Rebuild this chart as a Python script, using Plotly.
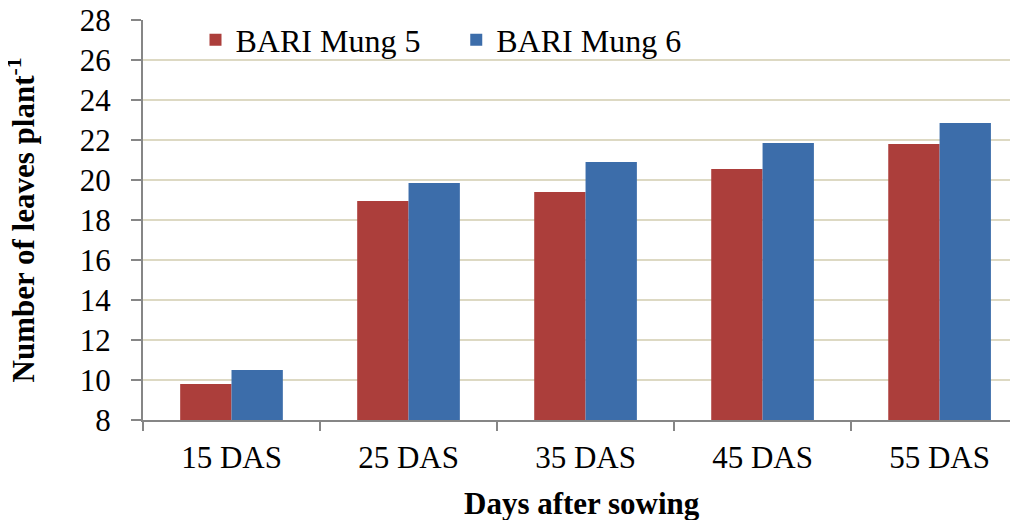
import plotly.graph_objects as go

categories = ["15 DAS", "25 DAS", "35 DAS", "45 DAS", "55 DAS"]
mung5 = [9.8, 18.95, 19.4, 20.55, 21.8]
mung6 = [10.5, 19.85, 20.9, 21.85, 22.85]
series_names = ["BARI Mung 5", "BARI Mung 6"]
y_ticks = [8, 10, 12, 14, 16, 18, 20, 22, 24, 26, 28]

FONT = "Liberation Serif"

fig = go.Figure()
fig.add_trace(go.Bar(x=categories, y=mung5, name=series_names[0], legend="legend",
                     marker=dict(color="#AC3E3B", line=dict(width=0))))
fig.add_trace(go.Bar(x=categories, y=mung6, name=series_names[1], legend="legend2",
                     marker=dict(color="#3C6DAA", line=dict(width=0))))

leg_common = dict(orientation="h", y=0.95, xanchor="left", yanchor="middle",
                  font=dict(family=FONT, size=32, color="black"), bgcolor="rgba(0,0,0,0)",
                  itemwidth=30)

fig.update_layout(
    width=1018, height=520,
    margin=dict(l=135, r=8, t=12, b=108, autoexpand=False),
    paper_bgcolor="white", plot_bgcolor="white",
    barmode="group", bargap=0.42, bargroupgap=0,
    font=dict(family=FONT, size=31, color="black"),
    showlegend=True,
    legend=dict(x=0.06, **leg_common),
    legend2=dict(x=0.358, **leg_common),
    xaxis=dict(
        range=[-0.5, 4.443], automargin=False,
        showline=True, linecolor="#868686", linewidth=2,
        ticks="outside", tickson="boundaries", ticklen=9, tickcolor="#868686", tickwidth=2,
        tickfont=dict(family=FONT, size=31, color="black"), ticklabelstandoff=9,
        ticklabeloverflow="allow",
        showgrid=False, zeroline=False,
    ),
    yaxis=dict(
        range=[8, 28], tickvals=y_ticks, automargin=False,
        showline=True, linecolor="#868686", linewidth=2,
        ticks="outside", ticklen=10, tickcolor="#868686", tickwidth=2,
        tickfont=dict(family=FONT, size=31, color="black"), ticklabelstandoff=14,
        ticklabeloverflow="allow",
        showgrid=True, gridcolor="#DDD9C3", gridwidth=2,
        zeroline=False,
    ),
    annotations=[
        dict(text="<b>Days after sowing</b>", xref="paper", yref="paper",
             x=0.502, y=-0.2075, xanchor="center", yanchor="middle", showarrow=False,
             font=dict(family=FONT, size=31, color="black")),
        dict(text="<b>Number of leaves plant<sup>-1</sup></b>", xref="paper", yref="paper",
             x=-0.139, y=0.5, xanchor="center", yanchor="middle", textangle=-90, showarrow=False,
             font=dict(family=FONT, size=31, color="black")),
    ],
)

fig.write_html("out.html")
